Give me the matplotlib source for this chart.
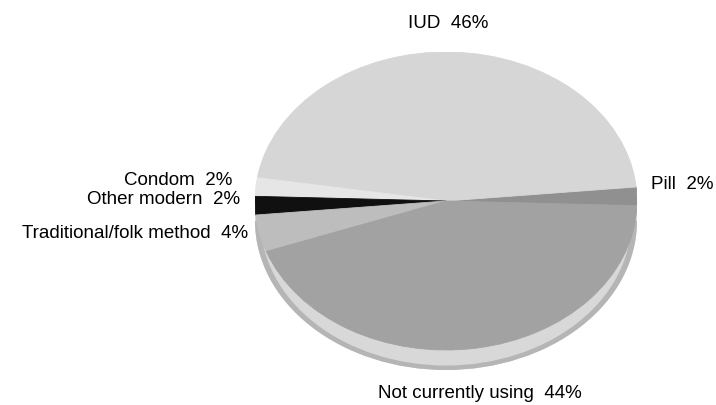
"""
Contraceptive method mix, drawn as a tilted (3D-looking) pie.
"""

import matplotlib.pyplot as plt
import numpy as np
from matplotlib.patches import Wedge, Rectangle, Ellipse

# slices in counter-clockwise order, starting just below the right edge
methods = ["Pill", "IUD", "Condom", "Other modern",
           "Traditional/folk method", "Not currently using"]
shares = [2, 46, 2, 2, 4, 44]
face_colors = ["#909090", "#d6d6d6", "#e6e6e6", "#101010", "#bdbdbd", "#a2a2a2"]
rim_color = "#d8d8d8"
start_angle = -1.8

# label text and where it sits (pixels from top-left), alignment
label_text = ["Pill  2%", "IUD  46%", "Condom  2%", "Other modern  2%",
              "Traditional/folk method  4%", "Not currently using  44%"]
label_pos = [(651, 184, "left"), (448, 24, "center"), (232, 181, "right"),
             (240, 199, "right"), (248, 233, "right"), (480, 394, "center")]

W, H = 716, 405
fig = plt.figure(figsize=(W / 100, H / 100), dpi=100)

# the pie face ellipse box in pixels
x0, x1 = 255, 637
y_top, y_bot = 52, 350
depth = 20  # thickness of the rim, pixels

ax = fig.add_axes([x0 / W, 1 - (y_bot + depth) / H,
                   (x1 - x0) / W, (y_bot + depth - y_top) / H])
ry_px = (y_bot - y_top) / 2
ax.set_xlim(-1, 1)
# y data unit = one face radius
ax.set_ylim(-1 - depth / ry_px, 1)
ax.set_aspect("auto")
ax.axis("off")

d = depth / ry_px
angles = start_angle + np.concatenate([[0], np.cumsum(shares)]) * 3.6

# rim: lower copy of the disc plus a band joining the two at the sides
ax.add_patch(Ellipse((0, -d), 2, 2, facecolor=rim_color, edgecolor="none"))
ax.add_patch(Rectangle((-1, -d), 2, d, facecolor=rim_color, edgecolor="none"))
ax.add_patch(Wedge((0, -d), 1.0, 180, 360, width=0.03,
                   facecolor="#b5b5b5", edgecolor="none"))

# top face
for i in range(len(shares)):
    ax.add_patch(Wedge((0, 0), 1, angles[i], angles[i + 1],
                       facecolor=face_colors[i], edgecolor=face_colors[i],
                       linewidth=0.6))

for txt, (px, py, ha) in zip(label_text, label_pos):
    fig.text(px / W, 1 - py / H, txt, ha=ha, va="center",
             fontsize=13.5, family="Liberation Sans", color="black")

fig.savefig("out.png", dpi=100)
